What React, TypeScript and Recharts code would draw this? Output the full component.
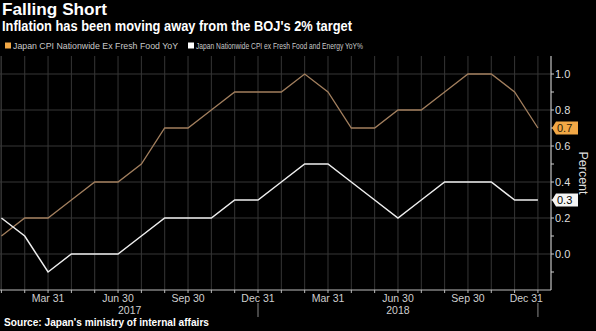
import {
  LineChart,
  Line,
  XAxis,
  YAxis,
  CartesianGrid,
  ReferenceLine,
  ReferenceDot,
} from "recharts";

// monthly readings, Jan 2017 .. Dec 2018
const months = [
  "2017-01", "2017-02", "2017-03", "2017-04", "2017-05", "2017-06",
  "2017-07", "2017-08", "2017-09", "2017-10", "2017-11", "2017-12",
  "2018-01", "2018-02", "2018-03", "2018-04", "2018-05", "2018-06",
  "2018-07", "2018-08", "2018-09", "2018-10", "2018-11", "2018-12",
];
const exFreshFood = [
  0.1, 0.2, 0.2, 0.3, 0.4, 0.4, 0.5, 0.7, 0.7, 0.8, 0.9, 0.9,
  0.9, 1.0, 0.9, 0.7, 0.7, 0.8, 0.8, 0.9, 1.0, 1.0, 0.9, 0.7,
];
const exFreshFoodEnergy = [
  0.2, 0.1, -0.1, 0.0, 0.0, 0.0, 0.1, 0.2, 0.2, 0.2, 0.3, 0.3,
  0.4, 0.5, 0.5, 0.4, 0.3, 0.2, 0.3, 0.4, 0.4, 0.4, 0.3, 0.3,
];

// x ticks (month index) and their labels
const quarterTicks = [2, 5, 8, 11, 14, 17, 20, 23];
const quarterLabels = ["Mar 31", "Jun 30", "Sep 30", "Dec 31", "Mar 31", "Jun 30", "Sep 30", "Dec 31"];
const yearEnds = [11, 23];
const yearTicks = [5.5, 17];
const yearLabels = ["2017", "2018"];

const yTicks = [-0.1, 0, 0.1, 0.2, 0.3, 0.4, 0.5, 0.6, 0.7, 0.8, 0.9, 1.0];
const yGrid = [0, 0.2, 0.4, 0.6, 0.8, 1.0];

const seriesNames = [
  "Japan CPI Nationwide Ex Fresh Food YoY",
  "Japan Nationwide CPI ex Fresh Food and Energy YoY%",
];

const xDomain: [number, number] = [-0.06, 23.56];

const ORANGE = "#f2a846";
const ORANGE_LINE = "#a27f5e";
const WHITE = "#eeeeee";
const GRID = "#363636";
const FONT = "'Liberation Sans', Arial, sans-serif";

const data = months.map((m, i) => ({
  i,
  month: m,
  core: exFreshFood[i],
  coreCore: exFreshFoodEnergy[i],
}));

const monthIdx = months.map((_, i) => i);

const MonthTick = (props: any) => {
  const { x, y, payload } = props;
  const v = payload.value;
  const q = quarterTicks.indexOf(v);
  const last = v === months.length - 1;
  return (
    <g>
      {q >= 0 && (
        <text
          x={last ? x + 5 : x}
          y={y + 7}
          textAnchor={last ? "end" : "middle"}
          fill="#cfcfcf"
          fontSize={10.5}
          fontFamily={FONT}
        >
          {quarterLabels[q]}
        </text>
      )}
      {yearEnds.includes(v) && (
        <line x1={x} x2={x} y1={y + 8} y2={y + 22} stroke="#8a8a8a" />
      )}
    </g>
  );
};

const YearTick = (props: any) => {
  const { x, y, payload } = props;
  const k = yearTicks.indexOf(payload.value);
  return (
    <text x={x} y={y + 10} textAnchor="middle" fill="#cfcfcf" fontSize={10.5} fontFamily={FONT}>
      {yearLabels[k]}
    </text>
  );
};

const Badge = (fill: string, text: string, label: string) => (props: any) => {
  const { cx, cy } = props;
  return (
    <g>
      <polygon
        points={`${cx + 1},${cy} ${cx + 5},${cy - 6.5} ${cx + 27},${cy - 6.5} ${cx + 27},${cy + 6.5} ${cx + 5},${cy + 6.5}`}
        fill={fill}
      />
      <text x={cx + 6} y={cy + 4} fill={text} fontSize={11} fontFamily={FONT}>
        {label}
      </text>
    </g>
  );
};

export default function App() {
  const lastCore = exFreshFood[exFreshFood.length - 1];
  const lastCoreCore = exFreshFoodEnergy[exFreshFoodEnergy.length - 1];
  return (
    <div
      style={{
        position: "absolute",
        left: 0,
        top: 0,
        width: 596,
        height: 331,
        background: "#000",
        overflow: "hidden",
      }}
    >
      <LineChart
        width={596}
        height={331}
        data={data}
        margin={{ top: 56, right: 0, left: 0, bottom: 0 }}
      >
        <CartesianGrid horizontal={false} stroke={GRID} />
        {yGrid.map((v) => (
          <ReferenceLine key={v} y={v} stroke={GRID} />
        ))}
        <XAxis
          dataKey="i"
          type="number"
          domain={xDomain}
          ticks={monthIdx}
          interval={0}
          height={14}
          tickSize={3}
          tickMargin={2}
          axisLine={{ stroke: "#bdbdbd" }}
          tickLine={{ stroke: "#bdbdbd" }}
          tick={<MonthTick />}
        />
        <XAxis
          xAxisId="yr"
          dataKey="i"
          type="number"
          domain={xDomain}
          ticks={yearTicks}
          interval={0}
          height={27}
          tickSize={0}
          tickMargin={0}
          axisLine={false}
          tickLine={false}
          tick={<YearTick />}
        />
        <YAxis
          orientation="right"
          width={45}
          type="number"
          domain={[-0.2, 1.1]}
          ticks={yTicks}
          interval={0}
          tickSize={3}
          tickMargin={1}
          axisLine={{ stroke: "#cfcfcf" }}
          tickLine={{ stroke: "#cfcfcf" }}
          tick={{ fill: "#dedede", fontSize: 11, fontFamily: FONT }}
          tickFormatter={(v: number) =>
            Math.round(v * 10) % 2 === 0 ? v.toFixed(1) : ""
          }
        />
        <Line
          dataKey="core"
          type="linear"
          stroke={ORANGE_LINE}
          strokeWidth={1.3}
          dot={false}
          isAnimationActive={false}
        />
        <Line
          dataKey="coreCore"
          type="linear"
          stroke={WHITE}
          strokeWidth={1.5}
          dot={false}
          isAnimationActive={false}
        />
        <ReferenceDot
          x={xDomain[1]}
          y={lastCore}
          ifOverflow="visible"
          shape={Badge(ORANGE, "#2b1a04", lastCore.toFixed(1))}
        />
        <ReferenceDot
          x={xDomain[1]}
          y={lastCoreCore}
          ifOverflow="visible"
          shape={Badge("#f4f4f4", "#000", lastCoreCore.toFixed(1))}
        />
      </LineChart>

      <svg
        width={596}
        height={331}
        style={{ position: "absolute", left: 0, top: 0, pointerEvents: "none" }}
        fontFamily={FONT}
      >
        <text x={2} y={15} fill="#fff" fontSize={17} fontWeight="bold" textLength={105} lengthAdjust="spacingAndGlyphs">
          Falling Short
        </text>
        <text x={2} y={30.7} fill="#fff" fontSize={14} fontWeight="bold" textLength={350} lengthAdjust="spacingAndGlyphs">
          Inflation has been moving away from the BOJ's 2% target
        </text>
        <rect x={5} y={42.5} width={6} height={6} fill={ORANGE} />
        <text x={13} y={49} fill="#c8c8c8" fontSize={9.5} textLength={165} lengthAdjust="spacingAndGlyphs">
          {seriesNames[0]}
        </text>
        <rect x={188} y={42.5} width={6} height={6} fill="#fff" />
        <text x={196} y={49} fill="#c8c8c8" fontSize={9.5} textLength={167} lengthAdjust="spacingAndGlyphs">
          {seriesNames[1]}
        </text>
        <text
          x={0}
          y={0}
          transform="translate(579,173) rotate(90)"
          textAnchor="middle"
          fill="#dedede"
          fontSize={12}
          textLength={43}
          lengthAdjust="spacingAndGlyphs"
        >
          Percent
        </text>
        <text x={4} y={326} fill="#fff" fontSize={10} fontWeight="bold" textLength={205} lengthAdjust="spacingAndGlyphs">
          Source: Japan's ministry of internal affairs
        </text>
      </svg>
    </div>
  );
}
